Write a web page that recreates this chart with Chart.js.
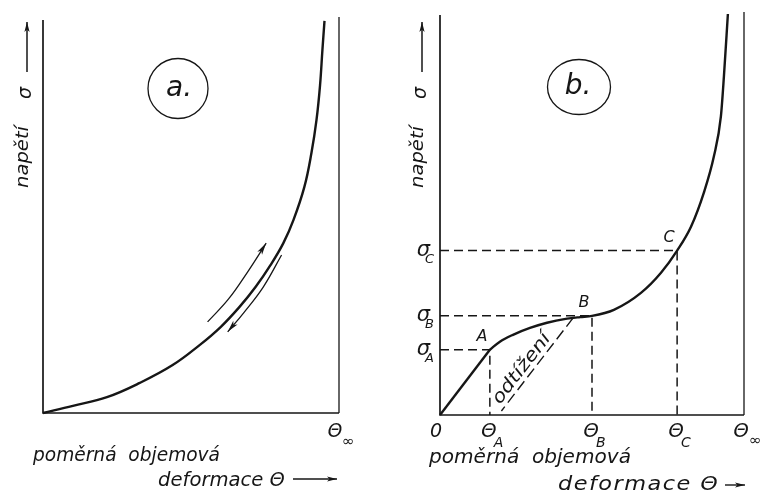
<!DOCTYPE html>
<html>
<head>
<meta charset="utf-8">
<script src="https://cdn.jsdelivr.net/npm/chart.js@4.4.1/dist/chart.umd.min.js"></script>
<style>
  html, body { margin: 0; padding: 0; background: #fff; }
  #wrap { position: relative; width: 762px; height: 496px; overflow: hidden; }
  canvas { position: absolute; top: 0; }
  #chartA { left: 0; }
  #chartB { left: 381px; }
</style>
</head>
<body>
<div id="wrap">
  <canvas id="chartA" width="381" height="496"></canvas>
  <canvas id="chartB" width="381" height="496"></canvas>
</div>
<script>
// panel a: reversible curve, Θ and σ in % of the drawn range
const curveAX = [0, 10.1, 21.6, 32.7, 43.8, 53.0, 60.0, 66.4, 71.8, 76.9, 81.2, 84.6, 88.3, 90.7, 92.4, 93.6, 94.4, 95.1];
const curveAY = [0, 1.8, 4.0, 7.6, 12.1, 17.2, 21.7, 26.8, 31.8, 37.4, 42.9, 48.7, 57.1, 65.7, 74.0, 82.8, 91.7, 99.0];
const loadArrowX = [55.6, 62.7, 69.1, 75.4];
const loadArrowY = [23.0, 28.8, 35.6, 42.9];
const unloadArrowX = [80.6, 74.4, 67.8, 62.4];
const unloadArrowY = [39.9, 31.8, 25.3, 20.5];

// panel b: elastic part O-A, then the curve A-B-C
const elasticX = [0, 16.4];
const elasticY = [0, 16.2];
const curveBX = [16.4, 19.7, 24, 29.6, 35.2, 41.8, 46.1, 50, 57.2, 66.1, 72.7, 78, 82.6, 86.8, 90.1, 92.4, 93.4, 94.7];
const curveBY = [16.2, 18.2, 19.9, 21.6, 22.9, 23.9, 24.3, 24.6, 26.1, 30.3, 35.3, 40.8, 46.8, 55.2, 64.2, 74.1, 84.1, 99.5];
const pointNames = ['A', 'B', 'C'];
const pointX = [16.4, 50, 78];
const pointY = [16.2, 24.6, 40.8];
const unloadX = [43.8, 20.2];
const unloadY = [24.1, 1];

const INK = '#161616';
const FONT = '"DejaVu Sans", "Liberation Sans", sans-serif';

const pts = (xs, ys) => xs.map((x, i) => ({ x, y: ys[i] }));

// italic label; "width" fits it by widening the letters a little, then spacing them
function text(ctx, str, x, y, o = {}) {
    ctx.save();
    ctx.font = `italic ${o.size || 18}px ${FONT}`;
    ctx.fillStyle = INK;
    ctx.textAlign = o.align || 'left';
    ctx.textBaseline = o.baseline || 'alphabetic';
    ctx.translate(x, y);
    if (o.rotate) ctx.rotate(o.rotate);
    if (o.width) {
        const w = ctx.measureText(str).width;
        const s = Math.min(o.width / w, 1.18);
        ctx.scale(s, 1);
        const ls = (o.width / s - w) / Math.max(str.length - 1, 1);
        ctx.letterSpacing = ls.toFixed(2) + 'px';
    }
    ctx.fillText(str, 0, 0);
    ctx.restore();
}

function arrowHead(ctx, x, y, ang, len = 10, half = 2.6) {
    ctx.save();
    ctx.translate(x, y);
    ctx.rotate(ang);
    ctx.beginPath();
    ctx.moveTo(0, 0);
    ctx.lineTo(-len, -half);
    ctx.lineTo(-len * 0.75, 0);
    ctx.lineTo(-len, half);
    ctx.closePath();
    ctx.fillStyle = INK;
    ctx.fill();
    ctx.restore();
}

function arrowLine(ctx, x1, y1, x2, y2, lw = 1.4) {
    ctx.save();
    ctx.strokeStyle = INK;
    ctx.lineWidth = lw;
    ctx.beginPath();
    ctx.moveTo(x1, y1);
    ctx.lineTo(x2, y2);
    ctx.stroke();
    ctx.restore();
    arrowHead(ctx, x2, y2, Math.atan2(y2 - y1, x2 - x1));
}

function drawFrame(chart, leftInset) {
    const { ctx, chartArea: a, scales: { x, y } } = chart;
    const x0 = x.getPixelForValue(0), x1 = x.getPixelForValue(100), y0 = y.getPixelForValue(0);
    ctx.save();
    ctx.strokeStyle = INK;
    ctx.lineWidth = 1.7;
    ctx.beginPath();
    ctx.moveTo(x0, a.top + leftInset);
    ctx.lineTo(x0, y0);
    ctx.lineTo(x1, y0);
    ctx.stroke();
    ctx.lineWidth = 1.3;
    ctx.beginPath();
    ctx.moveTo(x1, a.top);
    ctx.lineTo(x1, y0);
    ctx.stroke();
    ctx.restore();
}

function drawDatasetArrows(chart) {
    chart.data.datasets.forEach((ds, i) => {
        if (!ds.arrowAtEnd) return;
        const els = chart.getDatasetMeta(i).data;
        const p = els[els.length - 1], q = els[els.length - 2];
        arrowHead(chart.ctx, p.x, p.y, Math.atan2(p.y - q.y, p.x - q.x), 12, 2.8);
    });
}

function yTitle(ctx, cx, sigmaX, arrowX) {
    text(ctx, 'napětí', cx, 157, { size: 18, align: 'center', baseline: 'middle', rotate: -Math.PI / 2, width: 62 });
    text(ctx, 'σ', sigmaX, 93, { size: 19, align: 'center', baseline: 'middle', rotate: -Math.PI / 2 });
    arrowLine(ctx, arrowX, 72, arrowX, 22, 1.5);
}

const lineDefaults = {
    showLine: true,
    pointRadius: 0,
    borderColor: INK,
    clip: false
};

const baseOptions = (padding) => ({
    responsive: false,
    animation: false,
    devicePixelRatio: 1,
    layout: { padding },
    plugins: { legend: { display: false }, tooltip: { enabled: false } },
    scales: {
        x: { type: 'linear', min: 0, max: 100, display: false },
        y: { type: 'linear', min: 0, max: 100, display: false }
    }
});

// ---- panel a ----
new Chart(document.getElementById('chartA'), {
    type: 'scatter',
    data: {
        datasets: [
            { ...lineDefaults, data: pts(curveAX, curveAY), borderWidth: 2.4, tension: 0.4 },
            { ...lineDefaults, data: pts(loadArrowX, loadArrowY), borderWidth: 1.3, tension: 0.4, arrowAtEnd: true },
            { ...lineDefaults, data: pts(unloadArrowX, unloadArrowY), borderWidth: 1.3, tension: 0.4, arrowAtEnd: true }
        ]
    },
    options: baseOptions({ left: 43, right: 42, top: 17, bottom: 83 }),
    plugins: [{
        id: 'panelA',
        afterDraw(chart) {
            const { ctx, scales: { x } } = chart;
            drawFrame(chart, 3);
            drawDatasetArrows(chart);

            ctx.save();
            ctx.strokeStyle = INK;
            ctx.lineWidth = 1.3;
            ctx.beginPath();
            ctx.arc(178, 88.5, 30, 0, Math.PI * 2);
            ctx.stroke();
            ctx.restore();
            text(ctx, 'a.', 179, 89, { size: 28, align: 'center', baseline: 'middle' });

            yTitle(ctx, 23, 26, 27);

            const xe = x.getPixelForValue(100);
            text(ctx, 'Θ', xe - 4, 437, { size: 19, align: 'center' });
            text(ctx, '∞', xe + 3, 446, { size: 15 });

            text(ctx, 'poměrná  objemová', 33, 461, { size: 19, width: 187 });
            text(ctx, 'deformace Θ', 158, 486, { size: 19, width: 127 });
            arrowLine(ctx, 293, 479, 337, 479, 1.4);
        }
    }]
});

// ---- panel b ----
const dashed = (i) => ({
    ...lineDefaults,
    data: [{ x: 0, y: pointY[i] }, { x: pointX[i], y: pointY[i] }, { x: pointX[i], y: 0 }],
    borderWidth: 1.5,
    borderDash: [9, 5]
});

new Chart(document.getElementById('chartB'), {
    type: 'scatter',
    data: {
        datasets: [
            { ...lineDefaults, data: pts(elasticX, elasticY), borderWidth: 2.4 },
            { ...lineDefaults, data: pts(curveBX, curveBY), borderWidth: 2.4, cubicInterpolationMode: 'monotone' },
            { ...lineDefaults, data: pts(unloadX, unloadY), borderWidth: 1.4, borderDash: [11, 5] },
            ...pointNames.map((_, i) => dashed(i))
        ]
    },
    options: baseOptions({ left: 59, right: 18, top: 12, bottom: 81 }),
    plugins: [{
        id: 'panelB',
        afterDraw(chart) {
            const { ctx, chartArea: a, scales: { x, y } } = chart;
            drawFrame(chart, 3);

            ctx.save();
            ctx.strokeStyle = INK;
            ctx.lineWidth = 1.3;
            ctx.beginPath();
            ctx.ellipse(198, 87, 31.5, 27.5, 0, 0, Math.PI * 2);
            ctx.stroke();
            ctx.restore();
            text(ctx, 'b.', 197, 87, { size: 28, align: 'center', baseline: 'middle' });

            yTitle(ctx, 37, 40, 41);

            // σ ticks on the stress axis
            pointNames.forEach((n, i) => {
                const py = y.getPixelForValue(pointY[i]);
                text(ctx, 'σ', a.left - 10, py + 5, { size: 21, align: 'right' });
                text(ctx, n, a.left - 15, py + 12, { size: 13 });
            });

            // Θ ticks on the strain axis
            const yb = y.getPixelForValue(0);
            text(ctx, '0', a.left - 4, yb + 22, { size: 19, align: 'center' });
            pointNames.forEach((n, i) => {
                const px = x.getPixelForValue(pointX[i]);
                text(ctx, 'Θ', px - 1, yb + 22, { size: 20, align: 'center' });
                text(ctx, n, px + 4, yb + 32, { size: 14 });
            });
            const xe = x.getPixelForValue(100);
            text(ctx, 'Θ', xe - 3, yb + 22, { size: 20, align: 'center' });
            text(ctx, '∞', xe + 5, yb + 30, { size: 15 });

            // point letters on the curve
            pointNames.forEach((n, i) => {
                const px = x.getPixelForValue(pointX[i]), py = y.getPixelForValue(pointY[i]);
                text(ctx, n, px - 8, py - 13, { size: 16, align: 'center', baseline: 'middle' });
            });

            // label along the unloading line
            const p1 = { x: x.getPixelForValue(unloadX[0]), y: y.getPixelForValue(unloadY[0]) };
            const p2 = { x: x.getPixelForValue(unloadX[1]), y: y.getPixelForValue(unloadY[1]) };
            const len = Math.hypot(p1.x - p2.x, p1.y - p2.y);
            const d = { x: (p1.x - p2.x) / len, y: (p1.y - p2.y) / len };
            const t = 0.39 * len;
            const cx = p2.x + d.x * t + d.y * 9.5;
            const cy = p2.y + d.y * t - d.x * 9.5;
            text(ctx, 'odtížení', cx, cy, { size: 18, align: 'center', baseline: 'middle', rotate: Math.atan2(d.y, d.x), width: 84 });

            text(ctx, 'poměrná  objemová', 48, 463, { size: 19, width: 202 });
            text(ctx, 'deformace Θ', 177, 490, { size: 19, width: 160 });
            arrowLine(ctx, 344, 485, 364, 485, 1.4);
        }
    }]
});
</script>
</body>
</html>
